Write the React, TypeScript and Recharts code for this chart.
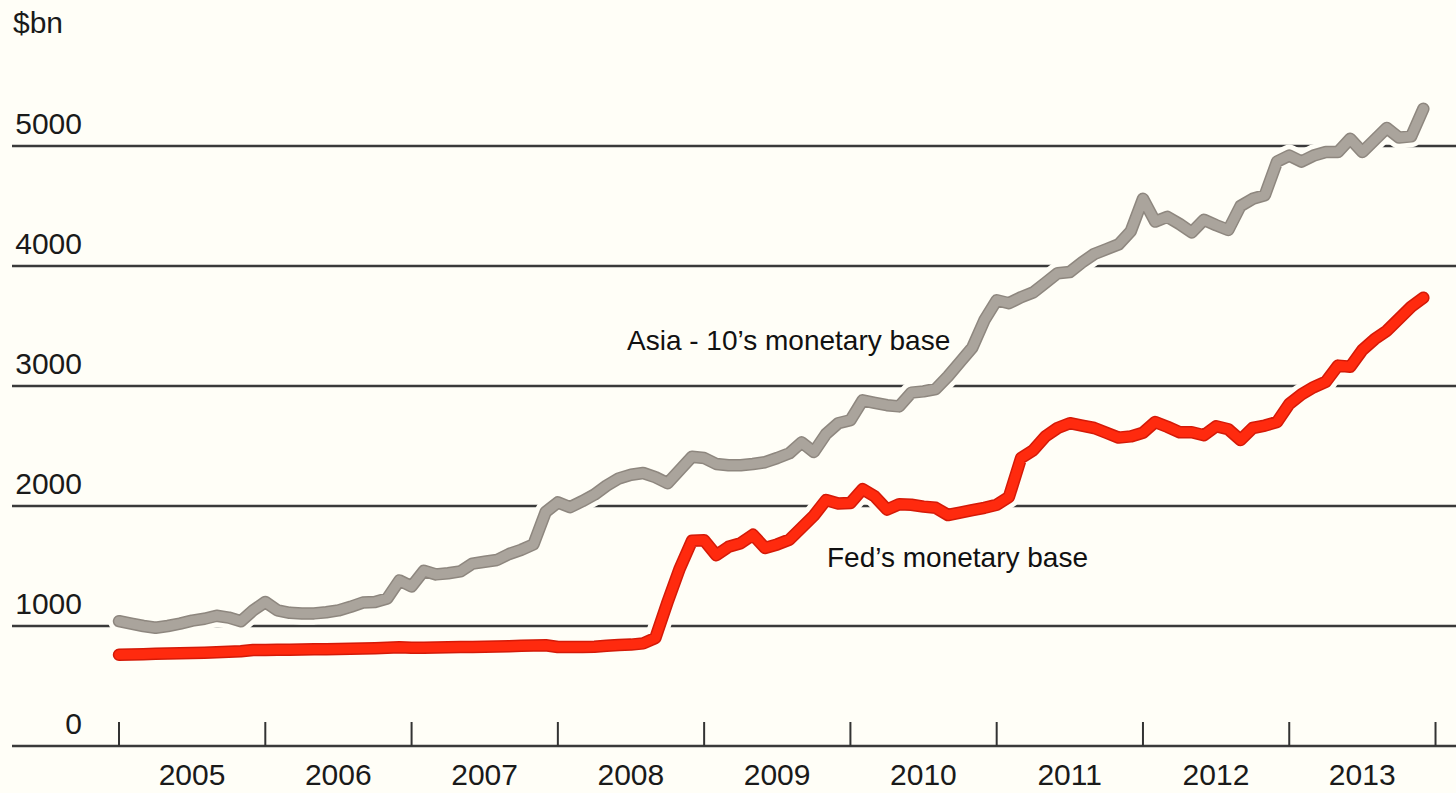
import { LineChart, Line, XAxis, YAxis, ReferenceLine } from "recharts";

// monthly values, Jan 2005 .. Dec 2013, $bn
const asia10 = [
  1040, 1020, 1000, 985, 1000, 1020, 1045, 1060, 1085, 1070, 1040, 1130,
  1200, 1130, 1110, 1105, 1105, 1115, 1130, 1160, 1195, 1200, 1230, 1380,
  1330, 1460, 1430, 1440, 1455, 1520, 1535, 1550, 1600, 1635, 1680, 1950,
  2030, 1990, 2040, 2095, 2170, 2230, 2260, 2275, 2240, 2190, 2300, 2410,
  2400, 2350, 2340, 2340, 2350, 2365, 2400, 2440, 2530, 2450, 2600, 2690,
  2715, 2880, 2860, 2840, 2830, 2945, 2955, 2975, 3080, 3200, 3320, 3550,
  3715, 3690, 3740, 3780, 3860, 3940, 3950, 4030, 4100, 4140, 4180, 4290,
  4560, 4370, 4410, 4350, 4280, 4385, 4340, 4300, 4500, 4560, 4590, 4870,
  4920, 4870, 4920, 4950, 4950, 5060, 4950, 5050, 5150, 5070, 5080, 5310,
];

const fedBase = [
  760, 762, 765, 768, 770, 772, 775, 778, 782, 785, 790, 800,
  800, 802, 803, 805, 806, 807, 808, 810, 812, 815, 818, 822,
  818, 818, 820, 822, 824, 826, 828, 830, 832, 835, 838, 840,
  825, 825, 825, 828, 835, 842, 845, 855, 900, 1200, 1480, 1710,
  1715, 1590, 1660, 1690, 1760, 1650, 1680, 1720, 1820, 1920, 2050, 2020,
  2025, 2140, 2080, 1970, 2015, 2010, 1995, 1985, 1925, 1945, 1965, 1985,
  2010, 2075, 2400, 2465, 2580, 2650, 2690, 2670, 2650, 2610, 2570, 2580,
  2610, 2700, 2660, 2615, 2615, 2590, 2665, 2640, 2550, 2650, 2670, 2700,
  2850, 2930, 2990, 3035, 3170, 3160, 3300, 3390, 3460, 3560, 3660, 3735,
];

const years = ["2005", "2006", "2007", "2008", "2009", "2010", "2011", "2012", "2013"];
const yTicks = [0, 1000, 2000, 3000, 4000, 5000];
const yearTicks = [0, 12, 24, 36, 48, 60, 72, 84, 96, 108];

const data = asia10.map((v, i) => ({ m: i, asia: v, fed: fedBase[i] }));

const W = 1456;
const H = 793;
const BOTTOM = 746;
const BG = "#fffef7";
const FONT = "'Liberation Sans', Arial, sans-serif";

const YearTick = (props: any) => {
  const { x, payload } = props;
  const idx = Math.round(payload.value / 12);
  return (
    <g>
      <line x1={x} x2={x} y1={BOTTOM - 24} y2={BOTTOM} stroke="#333" strokeWidth={2} />
      {idx < years.length && (
        <text x={x + 73} y={BOTTOM + 39} textAnchor="middle" fontSize={30} fill="#1a1a1a" fontFamily={FONT}>
          {years[idx]}
        </text>
      )}
    </g>
  );
};

const gridLabel = (v: number) => (props: any) => {
  const y = props.viewBox ? props.viewBox.y : 0;
  return (
    <text x={82} y={y - 12} textAnchor="end" fontSize={30} fill="#1a1a1a" fontFamily={FONT}>
      {v}
    </text>
  );
};

const lineProps = {
  type: "linear" as const,
  dot: false,
  activeDot: false,
  isAnimationActive: false,
  strokeLinejoin: "round" as const,
  strokeLinecap: "round" as const,
};

export default function App() {
  return (
    <div style={{ position: "fixed", left: 0, top: 0, width: W, height: H, background: BG }}>
      <LineChart width={W} height={H} data={data} margin={{ top: 26, right: 0, left: 12, bottom: 0 }}>
        <XAxis
          dataKey="m"
          type="number"
          domain={[-8.78, 109.68]}
          ticks={yearTicks}
          interval={0}
          axisLine={false}
          tickLine={false}
          height={47}
          tick={<YearTick />}
        />
        <YAxis domain={[0, 6000]} hide />
        {yTicks.map((v) => (
          <ReferenceLine key={v} y={v} stroke="#3a3a3a" strokeWidth={2.5} label={gridLabel(v)} />
        ))}
        {/* halo + edge + fill for each series */}
        <Line dataKey="asia" stroke={BG} strokeWidth={22} {...lineProps} />
        <Line dataKey="asia" stroke="#8e877f" strokeWidth={12.5} {...lineProps} />
        <Line dataKey="asia" stroke="#aaa49c" strokeWidth={9.5} {...lineProps} />
        <Line dataKey="fed" stroke={BG} strokeWidth={22} {...lineProps} />
        <Line dataKey="fed" stroke="#d41a08" strokeWidth={12.5} {...lineProps} />
        <Line dataKey="fed" stroke="#ff2a0e" strokeWidth={9.5} {...lineProps} />
      </LineChart>
      <svg width={W} height={H} style={{ position: "absolute", left: 0, top: 0, pointerEvents: "none" }}>
        <text x={13} y={33} fontSize={30} fill="#1a1a1a" fontFamily={FONT}>$bn</text>
        <text x={627} y={350} fontSize={28} fill="#111" fontFamily={FONT}>Asia - 10’s monetary base</text>
        <text x={827} y={567} fontSize={28} fill="#111" fontFamily={FONT}>Fed’s monetary base</text>
      </svg>
    </div>
  );
}
